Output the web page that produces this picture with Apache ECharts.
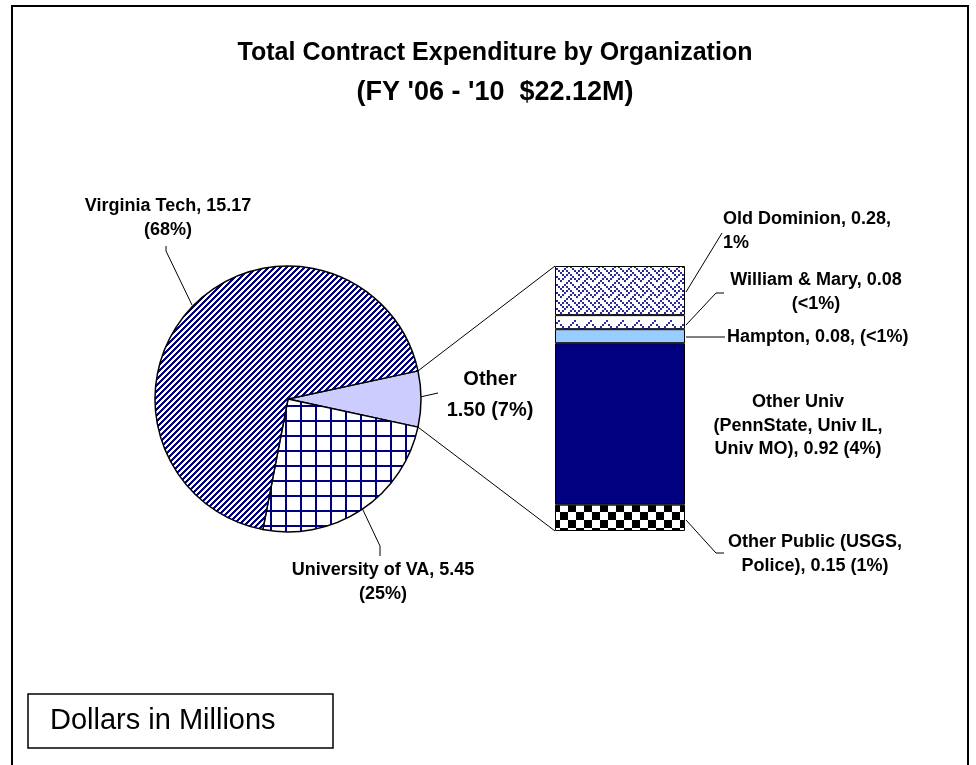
<!DOCTYPE html>
<html>
<head>
<meta charset="utf-8">
<title>Total Contract Expenditure by Organization</title>
<script src="https://cdn.jsdelivr.net/npm/echarts@6/dist/echarts.min.js"></script>
<style>
html, body { margin: 0; padding: 0; background: #fff; }
#chart { width: 976px; height: 765px; }
</style>
</head>
<body>
<div id="chart"></div>
<script>
// Dollars in Millions, FY '06 - '10
const pieNames = ['Other', 'University of VA', 'Virginia Tech']
const pieValues = [1.50, 5.45, 15.17]
const pieLabels = ['Other\n1.50 (7%)', 'University of VA, 5.45\n(25%)', 'Virginia Tech, 15.17\n(68%)']

// breakdown of "Other", bottom to top of the stacked bar
const barNames = ['Other Public', 'Other Univ', 'Hampton', 'William & Mary', 'Old Dominion']
const barValues = [0.15, 0.92, 0.08, 0.08, 0.28]
const barLabels = [
  'Other Public (USGS,\nPolice), 0.15 (1%)',
  'Other Univ\n(PennState, Univ IL,\nUniv MO), 0.92 (4%)',
  'Hampton, 0.08, (<1%)',
  'William & Mary, 0.08\n(<1%)',
  'Old Dominion, 0.28,\n1%'
]

const FONT = '"Liberation Sans", Arial, sans-serif'
const navy = '#000080'

// label placement (x, y, align)
const piePos = [[490, 395, 'center'], [383, 582, 'center'], [168, 218, 'center']]
const barPos = [[815, 554, 'center'], [798, 426, 'center'], [727, 337, 'left'], [816, 292, 'center'], [723, 231, 'left']]

// ---- fill patterns ----
function makeCanvas (w, h) {
  const c = document.createElement('canvas')
  c.width = w
  c.height = h
  return c
}
function bitPattern (rows, fg, bg, scale) {
  const c = makeCanvas(8 * scale, 8 * scale)
  const ctx = c.getContext('2d')
  ctx.fillStyle = bg
  ctx.fillRect(0, 0, c.width, c.height)
  ctx.fillStyle = fg
  rows.forEach((r, y) => {
    for (let x = 0; x < 8; x++) {
      if (r & (0x80 >> x)) ctx.fillRect(x * scale, y * scale, scale, scale)
    }
  })
  return { image: c, repeat: 'repeat' }
}
function stripePattern () {
  const c = makeCanvas(6, 6)
  const ctx = c.getContext('2d')
  for (let y = 0; y < 6; y++) {
    for (let x = 0; x < 6; x++) {
      const k = (x + y) % 6
      ctx.fillStyle = k < 3 ? navy : '#ffffff'
      ctx.fillRect(x, y, 1, 1)
    }
  }
  return { image: c, repeat: 'repeat' }
}
function gridPattern () {
  const c = makeCanvas(15, 15)
  const ctx = c.getContext('2d')
  ctx.fillStyle = '#ffffff'
  ctx.fillRect(0, 0, 15, 15)
  ctx.fillStyle = navy
  ctx.fillRect(0, 0, 2, 15)
  ctx.fillRect(0, 0, 15, 2)
  return { image: c, repeat: 'repeat' }
}
function checkerPattern () {
  const c = makeCanvas(16, 16)
  const ctx = c.getContext('2d')
  ctx.fillStyle = '#ffffff'
  ctx.fillRect(0, 0, 16, 16)
  ctx.fillStyle = '#000000'
  ctx.fillRect(0, 0, 8, 8)
  ctx.fillRect(8, 8, 8, 8)
  return { image: c, repeat: 'repeat' }
}

const pieFills = ['#CCCCFF', gridPattern(), stripePattern()]
const barFills = [
  checkerPattern(),
  navy,
  '#99CCFF',
  bitPattern([0x01, 0x02, 0x84, 0x48, 0x30, 0x00, 0x00, 0x00], '#3030a0', '#ffffff', 2),
  bitPattern([0x88, 0x54, 0x22, 0x45, 0x88, 0x14, 0x22, 0x51], '#2a2a9a', '#ffffff', 2)
]

const pieTotal = pieValues.reduce((a, b) => a + b, 0)
const barTotal = barValues.reduce((a, b) => a + b, 0)
const pieCenter = [288, 399]
const pieRadius = 133
const startAngle = 360 * pieValues[0] / pieTotal / 2

const gridBox = { left: 555, top: 266, width: 130, height: 265 }

function piePoint (deg) {
  const a = deg * Math.PI / 180
  return [pieCenter[0] + pieRadius * Math.cos(a), pieCenter[1] - pieRadius * Math.sin(a)]
}

const leaders = [
  [[166, 246], [166, 251], [192, 305]],
  [[362, 508], [380, 546], [380, 556]],
  [[420, 397], [438, 393]],
  [[686, 292], [722, 233]],
  [[686, 325], [716, 293], [724, 293]],
  [[686, 337], [725, 337]],
  [[686, 520], [716, 553], [724, 553]]
]

const chart = echarts.init(document.getElementById('chart'))

const option = {
  animation: false,
  backgroundColor: '#ffffff',
  title: {
    text: '{a|Total Contract Expenditure by Organization}\n{b|(FY \'06 - \'10  $22.12M)}',
    left: 490,
    top: 28,
    textAlign: 'center',
    textStyle: {
      rich: {
        a: { fontFamily: FONT, fontWeight: 'bold', fontSize: 25, lineHeight: 40, color: '#000' },
        b: { fontFamily: FONT, fontWeight: 'bold', fontSize: 27, lineHeight: 40, color: '#000' }
      }
    }
  },
  grid: { left: gridBox.left, top: gridBox.top, width: gridBox.width, height: gridBox.height },
  xAxis: { type: 'category', data: ['Other'], show: false },
  yAxis: { type: 'value', min: 0, max: barTotal, show: false, splitLine: { show: false } },
  series: [
    {
      type: 'pie',
      center: pieCenter,
      radius: pieRadius,
      startAngle: startAngle,
      clockwise: true,
      silent: true,
      avoidLabelOverlap: false,
      itemStyle: { borderColor: '#000', borderWidth: 1.5 },
      label: {
        show: true,
        position: 'outside',
        formatter: (p) => pieLabels[p.dataIndex],
        fontFamily: FONT,
        fontWeight: 'bold',
        fontSize: 18,
        lineHeight: 24,
        color: '#000'
      },
      labelLine: { show: false },
      labelLayout: (p) => ({
        x: piePos[p.dataIndex][0],
        y: piePos[p.dataIndex][1],
        align: piePos[p.dataIndex][2],
        verticalAlign: 'middle'
      }),
      data: pieNames.map((n, i) => {
        const item = { name: n, value: pieValues[i], itemStyle: { color: pieFills[i] } }
        if (i === 0) item.label = { fontSize: 20, lineHeight: 31 }
        return item
      })
    }
  ].concat(barNames.map((n, i) => ({
    type: 'bar',
    name: n,
    stack: 'other',
    barWidth: '100%',
    silent: true,
    data: [barValues[i]],
    itemStyle: { color: barFills[i], borderColor: '#000', borderWidth: 1 },
    label: {
      show: true,
      formatter: () => barLabels[i],
      fontFamily: FONT,
      fontWeight: 'bold',
      fontSize: 18,
      lineHeight: 23.5,
      color: '#000'
    },
    labelLayout: () => ({
      x: barPos[i][0],
      y: barPos[i][1],
      align: barPos[i][2],
      verticalAlign: 'middle'
    })
  }))),
  graphic: []
}

// outer frame
option.graphic.push({
  type: 'rect',
  shape: { x: 12, y: 6, width: 956, height: 790 },
  style: { fill: 'none', stroke: '#000', lineWidth: 2 },
  silent: true
})
// units box
option.graphic.push({
  type: 'rect',
  shape: { x: 28, y: 694, width: 305, height: 54 },
  style: { fill: '#fff', stroke: '#000', lineWidth: 1.5 },
  silent: true
})
option.graphic.push({
  type: 'text',
  x: 50,
  y: 721,
  style: {
    text: 'Dollars in Millions',
    fontFamily: FONT,
    fontSize: 29,
    fill: '#000',
    verticalAlign: 'middle'
  },
  silent: true
})
// connectors from the "Other" slice to the bar
option.graphic.push({
  type: 'polyline',
  shape: { points: [piePoint(startAngle), [gridBox.left, gridBox.top]] },
  style: { stroke: '#000', lineWidth: 1, fill: 'none' },
  silent: true
})
option.graphic.push({
  type: 'polyline',
  shape: { points: [piePoint(-startAngle), [gridBox.left, gridBox.top + gridBox.height]] },
  style: { stroke: '#000', lineWidth: 1, fill: 'none' },
  silent: true
})
// label leader lines
leaders.forEach(pts => {
  option.graphic.push({
    type: 'polyline',
    shape: { points: pts },
    style: { stroke: '#000', lineWidth: 1, fill: 'none' },
    silent: true
  })
})

chart.setOption(option)
</script>
</body>
</html>
